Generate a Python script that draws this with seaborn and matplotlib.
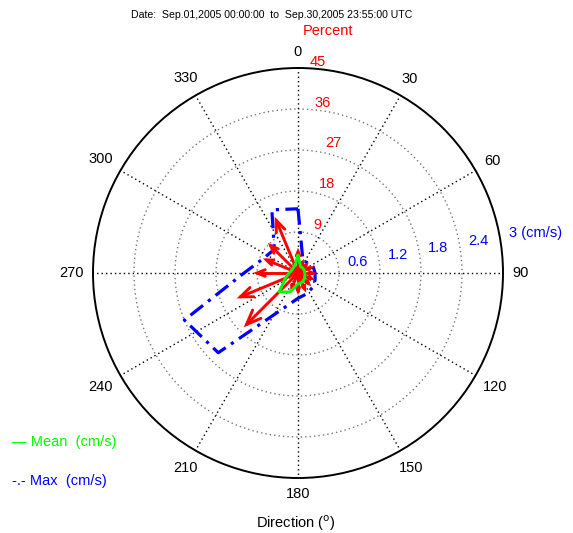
import numpy as np
import pandas as pd
import matplotlib
matplotlib.use("Agg")
import matplotlib.pyplot as plt
import seaborn as sns

# ---------------- data ----------------
directions = [0, 22.5, 45, 67.5, 90, 112.5, 135, 157.5,
              180, 202.5, 225, 247.5, 270, 292.5, 315, 337.5]
percent = [4.7, 2.5, 2.5, 3.0, 3.2, 3.2, 3.3, 3.8,
           4.0, 3.5, 16.0, 13.7, 9.0, 7.5, 8.5, 12.5]
mean_speed = [0.26, 0.10, 0.10, 0.10, 0.10, 0.11, 0.13, 0.15,
              0.16, 0.30, 0.39, 0.20, 0.13, 0.10, 0.10, 0.12]
max_speed = [0.94, 0.19, 0.21, 0.24, 0.25, 0.27, 0.30, 0.33,
             0.37, 0.56, 1.65, 1.80, 0.79, 0.55, 0.49, 1.00]
angle_ticks = list(range(0, 360, 30))
speed_rings = [0.6, 1.2, 1.8, 2.4, 3.0]
speed_labels = ["0.6", "1.2", "1.8", "2.4", "3 (cm/s)"]
percent_rings = [9, 18, 27, 36, 45]
title_text = "Date:  Sep.01,2005 00:00:00  to  Sep.30,2005 23:55:00 UTC"

# ---------------- style ----------------
sns.set_theme(style="white")
plt.rcParams["font.family"] = ["Liberation Sans", "DejaVu Sans"]

W, H = 573, 533
fig = plt.figure(figsize=(W / 100, H / 100), dpi=100)
fig.patch.set_facecolor("white")
cx, cy, R = 298, 273, 205
ax = fig.add_axes([(cx - R) / W, (H - cy - R) / H, 2 * R / W, 2 * R / H], projection="polar")
ax.set_theta_zero_location("N")
ax.set_theta_direction(-1)
rmax = speed_rings[-1]
ax.set_ylim(0, rmax)
ax.grid(False)
ax.set_xticks([])
ax.set_yticks([])
ax.set_facecolor("white")
ax.spines["polar"].set_color("black")
ax.spines["polar"].set_linewidth(1.4)

px = rmax / R  # data units per pixel

# grid rings and spokes
tt = np.linspace(0, 2 * np.pi, 721)
for r in speed_rings[:-1]:
    ax.plot(tt, np.full_like(tt, r), color="#777777", ls=(0, (1, 2.2)), lw=1.0, zorder=1)
for a in angle_ticks:
    ax.plot([np.deg2rad(a)] * 2, [0, rmax], color="black", ls=(0, (1, 2.2)), lw=1.0, zorder=1)

# angle labels
for a in angle_ticks:
    lab = str(a)
    th = np.deg2rad(a)
    w = 7.7 * len(lab)
    h = 11
    dist = R + 10 + w / 2 * abs(np.sin(th)) + h / 2 * abs(np.cos(th))
    ax.text(th, dist * px, lab, ha="center", va="center", fontsize=10.5, color="black",
            clip_on=False)

# speed ring labels (blue)
for r, lab in zip(speed_rings, speed_labels):
    ax.annotate(lab, xy=(np.deg2rad(80), r), xytext=(9, 4), textcoords="offset pixels",
                ha="left", va="center", fontsize=10.5, color="#0000FF", annotation_clip=False)

# percent ring labels (red)
pct_offsets = [(19, 7), (29, 7), (35, 7), (25, 6), (20, 6)]
for p, off in zip(percent_rings, pct_offsets):
    ax.annotate(str(p), xy=(0, p / percent_rings[-1] * rmax), xytext=off,
                textcoords="offset pixels", ha="center", va="center",
                fontsize=10.5, color="#FF0000", annotation_clip=False)

# max and mean polygons
th_dirs = np.deg2rad(directions)
df_max = pd.DataFrame({"theta": np.append(th_dirs, th_dirs[0] + 2 * np.pi),
                       "speed": np.append(max_speed, max_speed[0])})
df_mean = pd.DataFrame({"theta": np.append(th_dirs, th_dirs[0] + 2 * np.pi),
                        "speed": np.append(mean_speed, mean_speed[0])})
sns.lineplot(data=df_max, x="theta", y="speed", sort=False, estimator=None, ax=ax,
             color="#0000FF", lw=2.3, linestyle=(0, (5, 2, 1, 2)), zorder=3)

# red percent arrows (MATLAB compass style)
scale = rmax / percent_rings[-1]
for d, p in zip(directions, percent):
    th = np.deg2rad(d)
    L = p * scale
    rb = L * np.hypot(0.8, 0.08)
    db = np.arctan2(0.08, 0.8)
    ax.plot([th, th], [0, L], color="#FF0000", lw=2.1, zorder=4, solid_capstyle="round")
    ax.plot([th - db, th, th + db], [rb, L, rb], color="#FF0000", lw=2.1, zorder=4,
            solid_capstyle="round", solid_joinstyle="miter")

sns.lineplot(data=df_mean, x="theta", y="speed", sort=False, estimator=None, ax=ax,
             color="#00FF00", lw=2.1, zorder=5)
ax.set_xlabel("")
ax.set_ylabel("")
ax.set_xticks([])
ax.set_yticks([])
ax.set_ylim(0, rmax)

# texts
fig.text(271.5 / W, 1 - 15 / H, title_text, ha="center", va="center", fontsize=7.6, color="black")
fig.text(328 / W, 1 - 31 / H, "Percent", ha="center", va="center", fontsize=10.5, color="#FF0000")
fig.text(296 / W, 1 - 523 / H, r"Direction ($^{\rm o}$)", ha="center", va="center",
         fontsize=10.5, color="black")
fig.text(12 / W, 1 - 442 / H, "\u2014 Mean  (cm/s)", ha="left", va="center", fontsize=10.5,
         color="#00FF00")
fig.text(12 / W, 1 - 481 / H, "-.- Max  (cm/s)", ha="left", va="center", fontsize=10.5,
         color="#0000FF")

fig.savefig("out.png", dpi=100, facecolor="white")
